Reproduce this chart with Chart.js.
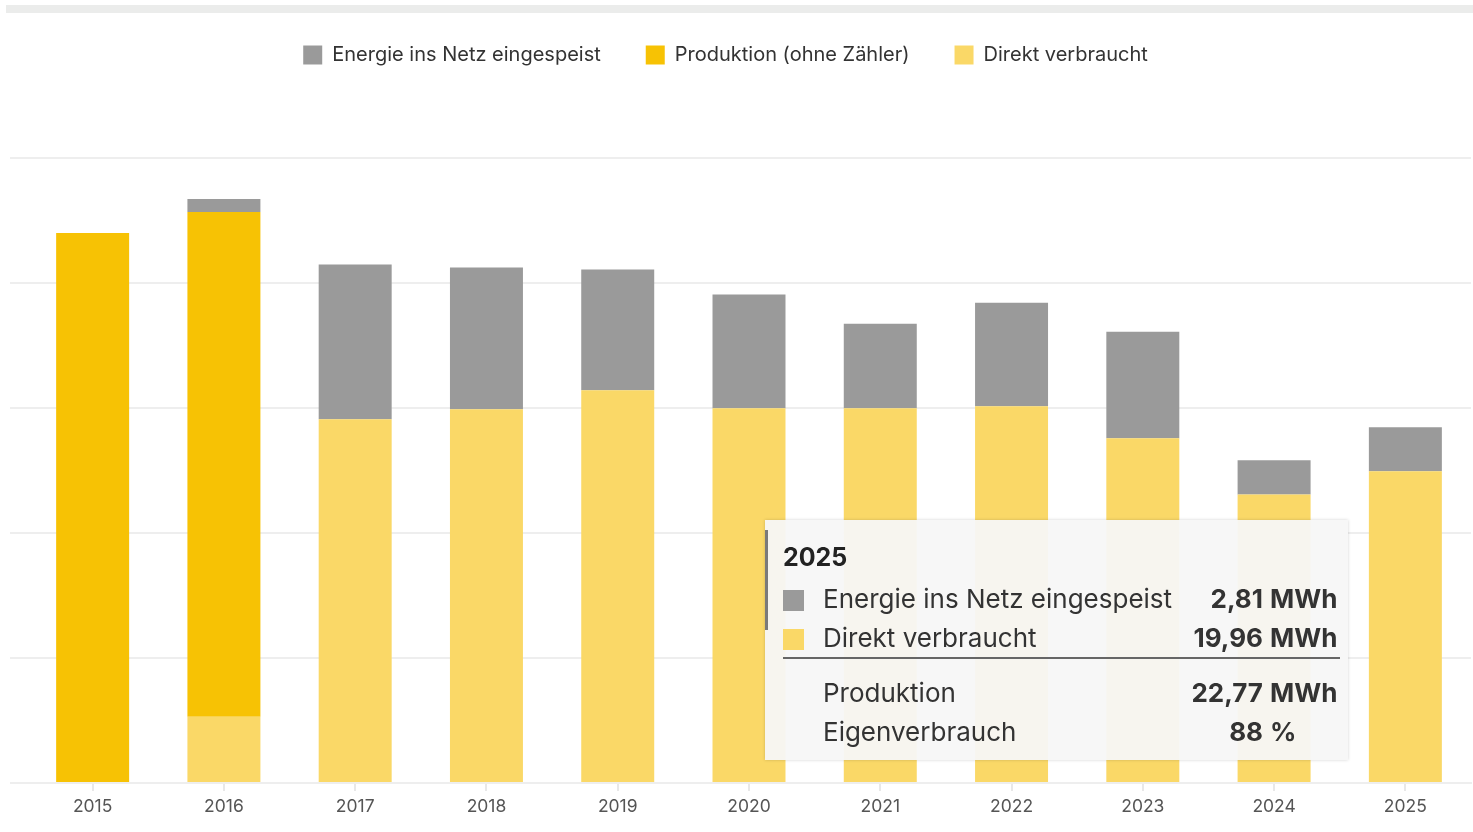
<!DOCTYPE html>
<html>
<head>
<meta charset="utf-8">
<script src="https://cdn.jsdelivr.net/npm/chart.js@4"></script>
<style>
  html, body { margin: 0; padding: 0; background: #fff; }
  #wrap { position: relative; width: 1473px; height: 832px; overflow: hidden; font-family: Inter, sans-serif; }
  #band { position: absolute; left: 6px; right: 0; top: 5px; height: 8px; background: #ebeceb; }
  #tip {
    position: absolute; left: 765px; top: 520px; width: 583px; height: 240px;
    background: rgba(247, 247, 247, 0.95); box-shadow: 0 0 3px rgba(0, 0, 0, 0.18);
    color: #333; font-size: 26px; opacity: 0; box-sizing: border-box; padding: 18px 8px 0 18px;
  }
  #tip .edge { position: absolute; left: 0; top: 10px; width: 3px; height: 100px; background: #7a7a7a; }
  #tip .title { font-weight: bold; font-size: 25px; color: #222; height: 41px; line-height: 38px; }
  #tip table { border-collapse: collapse; width: 100%; }
  #tip td { height: 39px; padding: 0; white-space: nowrap; }
  #tip td.sw { width: 40px; }
  #tip td.sw span { display: inline-block; width: 21px; height: 21px; vertical-align: middle; }
  #tip td.num { text-align: right; font-weight: bold; }
  #tip td.unit { width: 70px; font-weight: bold; padding-left: 7px; }
  #tip tr.sep td { height: 14px; border-top: 2px solid #666; }
</style>
</head>
<body>
<div id="wrap">
  <canvas id="chart" width="1473" height="832"></canvas>
  <div id="band"></div>
  <div id="tip"></div>
</div>
<script>
// Jahreswerte in MWh
const years = ['2015', '2016', '2017', '2018', '2019', '2020', '2021', '2022', '2023', '2024', '2025'];
const netz = [0, 0.84, 9.9, 9.07, 7.72, 7.27, 5.4, 6.62, 6.82, 2.19, 2.81];
const ohneZaehler = [35.2, 32.3, 0, 0, 0, 0, 0, 0, 0, 0, 0];
const direkt = [0, 4.24, 23.28, 23.92, 25.14, 23.99, 23.99, 24.12, 22.06, 18.46, 19.96];
const yTicks = [0, 8, 16, 24, 32, 40];

const colors = { netz: '#9a9a9a', ohne: '#f7c204', direkt: '#fad867' };

const fmt = v => v.toLocaleString('de-DE', { minimumFractionDigits: 2, maximumFractionDigits: 2 });

function externalTooltip(context) {
    const { chart, tooltip } = context;
    const el = document.getElementById('tip');
    if (tooltip.opacity === 0 || !tooltip.dataPoints || !tooltip.dataPoints.length) {
        el.style.opacity = 0;
        return;
    }
    const idx = tooltip.dataPoints[0].dataIndex;
    let total = 0;
    chart.data.datasets.forEach(ds => { total += ds.data[idx]; });
    const own = direkt[idx] + ohneZaehler[idx];

    let html = '<div class="edge"></div><div class="title">' + chart.data.labels[idx] + '</div><table>';
    tooltip.dataPoints.forEach(dp => {
        html += '<tr><td class="sw"><span style="background:' + dp.dataset.backgroundColor + '"></span></td>' +
            '<td>' + dp.dataset.label + '</td><td class="num">' + fmt(dp.raw) + '</td><td class="unit">MWh</td></tr>';
    });
    html += '<tr class="sep"><td colspan="4"></td></tr>';
    html += '<tr><td class="sw"></td><td>Produktion</td><td class="num">' + fmt(total) + '</td><td class="unit">MWh</td></tr>';
    html += '<tr><td class="sw"></td><td>Eigenverbrauch</td><td class="num">' + Math.round(own / total * 100) + '</td><td class="unit">%</td></tr>';
    html += '</table>';
    el.innerHTML = html;
    el.style.opacity = 1;
}

// extra room under the legend, legend sits a bit left of centre
const legendSpace = {
    id: 'legendSpace',
    beforeInit(chart) {
        const fit = chart.legend.fit;
        chart.legend.fit = function () {
            fit.call(this);
            this.height += 83;
        };
    },
    afterUpdate(chart) {
        chart.legend.right -= 30;
    }
};

const ctx = document.getElementById('chart');
const chart = new Chart(ctx, {
    type: 'bar',
    data: {
        labels: years,
        // stacked bottom to top
        datasets: [
            { label: 'Direkt verbraucht', data: direkt, backgroundColor: colors.direkt },
            { label: 'Produktion (ohne Zähler)', data: ohneZaehler, backgroundColor: colors.ohne },
            { label: 'Energie ins Netz eingespeist', data: netz, backgroundColor: colors.netz }
        ].map(ds => Object.assign(ds, { borderWidth: 0, hoverBackgroundColor: ds.backgroundColor }))
    },
    options: {
        responsive: false,
        animation: false,
        layout: { padding: { left: 10, right: 2, top: 0, bottom: 10 } },
        datasets: { bar: { barPercentage: 1, categoryPercentage: 0.556 } },
        interaction: { mode: 'index', intersect: false },
        scales: {
            x: {
                stacked: true,
                grid: { display: true, drawOnChartArea: false, offset: false, tickLength: 8, color: '#e8e8e8', lineWidth: 2 },
                border: { display: true, color: '#eeeeee', width: 2 },
                ticks: { color: '#555', font: { family: 'Inter', size: 17.5 }, padding: 5 }
            },
            y: {
                stacked: true,
                min: 0,
                max: 40,
                afterBuildTicks: axis => { axis.ticks = yTicks.map(v => ({ value: v })); },
                grid: { color: '#eeeeee', lineWidth: 2, drawTicks: true, tickLength: 17, tickColor: '#eeeeee' },
                border: { display: false },
                ticks: { display: false }
            }
        },
        plugins: {
            legend: {
                position: 'top',
                reverse: true,
                labels: {
                    boxWidth: 19, boxHeight: 19, padding: 45, color: '#333',
                    font: { family: 'Inter', size: 20 }
                }
            },
            tooltip: {
                enabled: false,
                external: externalTooltip,
                filter: item => item.raw > 0,
                itemSort: (a, b) => b.datasetIndex - a.datasetIndex
            }
        }
    },
    plugins: [legendSpace]
});

const last = years.length - 1;
chart.tooltip.setActiveElements(
    chart.data.datasets.map((ds, i) => ({ datasetIndex: i, index: last })),
    { x: chart.scales.x.getPixelForValue(last), y: chart.scales.y.getPixelForValue(20) }
);
chart.update();
</script>
</body>
</html>
